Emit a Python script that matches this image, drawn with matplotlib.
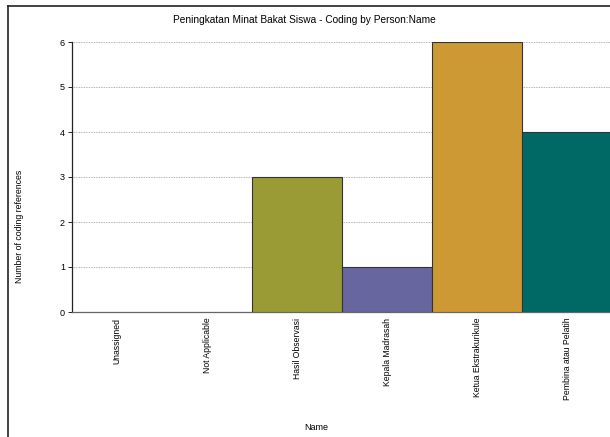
import matplotlib
matplotlib.use("Agg")
import matplotlib.pyplot as plt

plt.rcParams['font.family'] = ['Liberation Sans', 'DejaVu Sans']

categories = ["Unassigned", "Not Applicable", "Hasil Observasi", "Kepala Madrasah",
              "Ketua Ekstrakurikule", "Pembina atau Pelatih"]
values = [0, 0, 3, 1, 6, 4]
colors = ["#ffffff", "#ffffff", "#9a9b35", "#68669e", "#cd9934", "#006966"]
yticks = [0, 1, 2, 3, 4, 5, 6]

W, H = 610, 437
fig = plt.figure(figsize=(W/100, H/100), dpi=100)
ax = fig.add_axes([72/W, 1-312/H, (612-72)/W, (312-42)/H])

x = list(range(len(categories)))
for xi, v, c in zip(x, values, colors):
    if v > 0:
        ax.bar(xi, v, width=1.0, color=c, edgecolor="#333333", linewidth=0.8, zorder=3)

ax.set_xlim(-0.5, 5.5)
ax.set_ylim(0, 6)
ax.set_yticks(yticks)
ax.set_yticklabels([str(t) for t in yticks], fontsize=6.5)
ax.set_xticks(x)
ax.set_xticklabels(categories, rotation=90, fontsize=6.2, va='top')
ax.tick_params(axis='x', length=0, pad=4)
ax.tick_params(axis='y', length=3, width=0.6, pad=2)
ax.yaxis.grid(True, linestyle=(0, (1, 1)), color="#9a9a9a", linewidth=0.6, zorder=0)
for s in ["top", "right"]:
    ax.spines[s].set_visible(False)
ax.spines["left"].set_color("#222222")
ax.spines["left"].set_linewidth(0.9)
ax.spines["bottom"].set_color("#666666")
ax.spines["bottom"].set_linewidth(0.9)

fig.text(304/W, 1-20/H, "Peningkatan Minat Bakat Siswa - Coding by Person:Name",
         ha='center', va='center', fontsize=7.3)
fig.text(20/W, 1-226/H, "Number of coding references", rotation=90,
         ha='center', va='center', fontsize=6.3)
fig.text(316/W, 1-427/H, "Name", ha='center', va='center', fontsize=6.5)

# outer frame (left and top lines)
fig.add_artist(plt.Line2D([8/W, 8/W], [0, 1-6/H], transform=fig.transFigure,
                          color="#222222", linewidth=1.2))
fig.add_artist(plt.Line2D([8/W, 1], [1-6/H, 1-6/H], transform=fig.transFigure,
                          color="#222222", linewidth=1.2))

fig.savefig("out.png", dpi=100)
